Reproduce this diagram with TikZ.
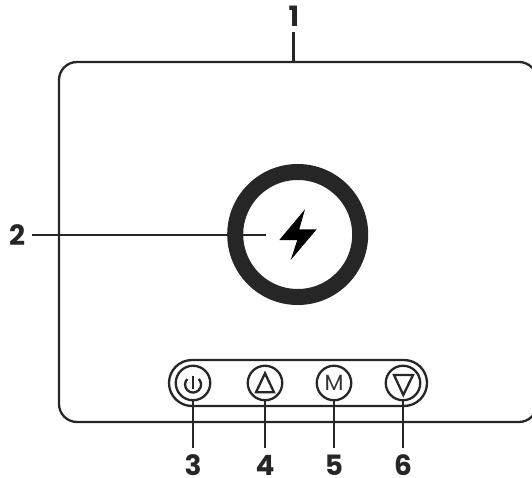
\documentclass[tikz,border=0pt]{standalone}
\usepackage{fontspec}
\setmainfont{Poppins}
\tikzset{
  ink/.style={draw=black!85,line width=2.3pt},
  lead/.style={draw=black!85,line width=2.3pt},
  num/.style={font=\bfseries\fontsize{28}{28}\selectfont,text=black!85,inner sep=0pt},
  btn/.style={circle,draw=black!85,line width=2.3pt,minimum size=34.5pt,inner sep=0pt}
}
\begin{document}
\begin{tikzpicture}[x=1pt,y=-1pt]
\useasboundingbox (0,0) rectangle (532,478);
\begin{scope}
\clip (0,0) rectangle (532,478);
\draw[ink,rounded corners=18pt] (59,62) rectangle (537,422);
\draw[ink,rounded corners=23pt] (169,360) rectangle (427,406);
\node[circle,draw=black!85,line width=16pt,minimum size=125pt,inner sep=0pt] (ring) at (297.7,234.5) {};
\fill[black] (305,209.3) -- (279.3,240) -- (297.3,240) -- (290.7,260) -- (316.7,229.3) -- (299.3,229.3) -- cycle;
\node[btn] (b3) at (193,383) {};
\node[btn] (b4) at (265,383) {};
\node[btn,text=black!80] (b5) at (334,383) {\fontsize{22}{22}\selectfont M};
\node[btn] (b6) at (403,383) {};
\draw[ink] (193,376) -- (193,389);
\draw[ink] (187.3,379) arc[start angle=136,end angle=404,radius=8pt];
\draw[ink,line join=miter] (265,373.3) -- (256,392.3) -- (274,392.3) -- cycle;
\draw[ink,line join=miter] (394,375) -- (413,375) -- (403.3,395) -- cycle;
\node[num] (n1) at (294,16) {1};
\node[num] (n2) at (17,235) {2};
\node[num] (n3) at (193,465) {3};
\node[num] (n4) at (265,465) {4};
\node[num] (n5) at (334,465) {5};
\node[num] (n6) at (403,465) {6};
\coordinate (t1) at (293.5,62);
\coordinate (t2) at (266,235);
\draw[lead] (293.5,32) -- (t1);
\draw[lead] (32,235) -- (t2);
\draw[lead] (b3.south) -- (193,448);
\draw[lead] (b4.south) -- (265,448);
\draw[lead] (b5.south) -- (334,448);
\draw[lead] (b6.south) -- (403,448);
\end{scope}
\end{tikzpicture}
\end{document}
